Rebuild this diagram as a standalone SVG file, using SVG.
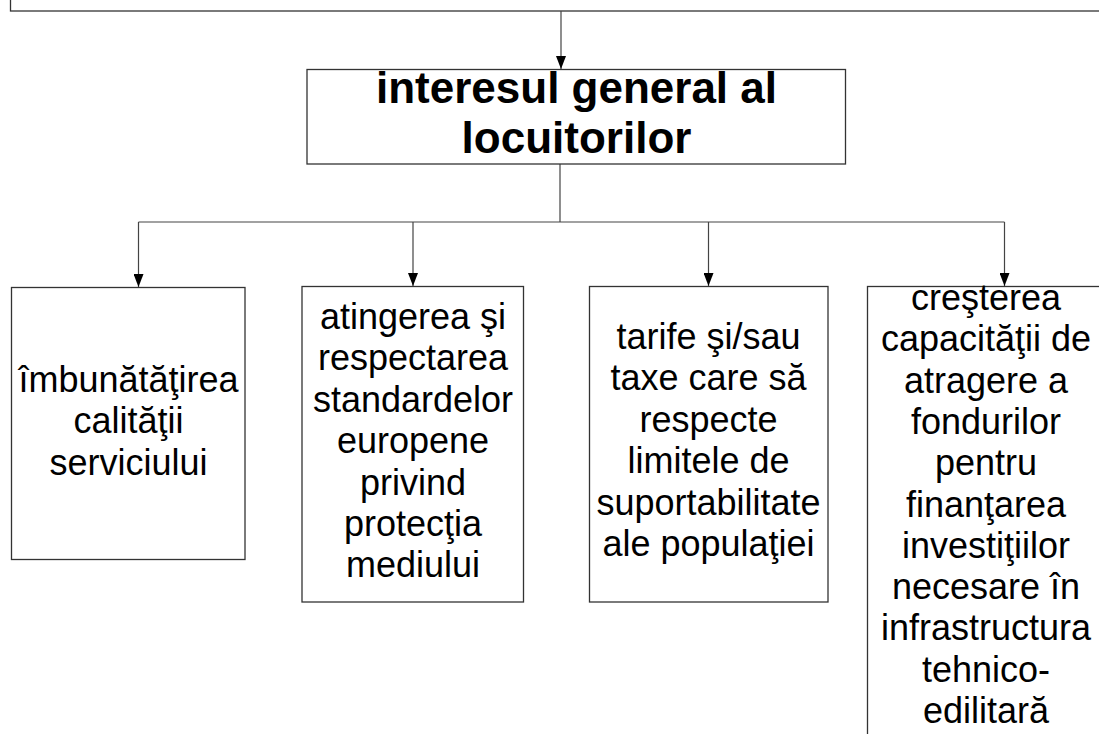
<svg xmlns="http://www.w3.org/2000/svg" width="1099" height="734" viewBox="0 0 1099 734">
<style>
.box{fill:#fff;stroke:#333;stroke-width:1.3}
.conn{fill:none;stroke:#444;stroke-width:1.2}
.t{font-family:"Liberation Sans",Arial,sans-serif;font-size:36px;fill:#000;text-anchor:middle}
.title{font-family:"Liberation Sans",Arial,sans-serif;font-size:44px;font-weight:bold;fill:#000;text-anchor:middle}
</style>
<defs>
<marker id="arr" markerUnits="userSpaceOnUse" markerWidth="10" markerHeight="14" refX="5" refY="13" orient="auto-start-reverse" viewBox="0 0 10 14">
<path d="M0,0 L10,0 L5,13 z" fill="#000" transform="rotate(0)"/>
</marker>
<marker id="a" markerUnits="userSpaceOnUse" markerWidth="14" markerHeight="10" refX="13" refY="5" orient="auto" viewBox="0 0 14 10">
<path d="M0,0 L13,5 L0,10 z" fill="#000"/>
</marker>
</defs>
<rect width="1099" height="734" fill="#fff"/>
<g id="top-node">
<rect class="box" x="10.5" y="-20" width="1120" height="31"/>
</g>
<g id="connectors">
<line class="conn" x1="561" y1="11" x2="561" y2="69" marker-end="url(#a)"/>
<polyline class="conn" points="560,164 560,222"/>
<line class="conn" x1="138.5" y1="222" x2="1004.5" y2="222"/>
<line class="conn" x1="138.5" y1="222" x2="138.5" y2="287" marker-end="url(#a)"/>
<line class="conn" x1="413" y1="222" x2="413" y2="286" marker-end="url(#a)"/>
<line class="conn" x1="708.5" y1="222" x2="708.5" y2="286" marker-end="url(#a)"/>
<line class="conn" x1="1004.5" y1="222" x2="1004.5" y2="286" marker-end="url(#a)"/>
</g>
<g id="node-interes">
<rect class="box" x="307" y="69.5" width="538.5" height="94.5"/>
<text class="title" x="576.5" y="103">interesul general al</text>
<text class="title" x="576.5" y="153">locuitorilor</text>
</g>
<g id="node-calitate">
<rect class="box" x="11.5" y="287.5" width="233.5" height="272"/>
<text class="t" x="128.5"><tspan x="128.5" y="392">îmbunătăţirea</tspan><tspan x="128.5" y="433.4">calităţii</tspan><tspan x="128.5" y="474.8">serviciului</tspan></text>
</g>
<g id="node-standarde">
<rect class="box" x="302" y="286.5" width="221.5" height="315.5"/>
<text class="t" x="413"><tspan x="413" y="329">atingerea şi</tspan><tspan x="413" y="370.4">respectarea</tspan><tspan x="413" y="411.8">standardelor</tspan><tspan x="413" y="453.2">europene</tspan><tspan x="413" y="494.6">privind</tspan><tspan x="413" y="536">protecţia</tspan><tspan x="413" y="577.4">mediului</tspan></text>
</g>
<g id="node-tarife">
<rect class="box" x="589.5" y="286.5" width="238.5" height="315.5"/>
<text class="t" x="708.5"><tspan x="708.5" y="349">tarife şi/sau</tspan><tspan x="708.5" y="390.4">taxe care să</tspan><tspan x="708.5" y="431.8">respecte</tspan><tspan x="708.5" y="473.2">limitele de</tspan><tspan x="708.5" y="514.6">suportabilitate</tspan><tspan x="708.5" y="556">ale populaţiei</tspan></text>
</g>
<g id="node-fonduri">
<rect class="box" x="867.5" y="286.5" width="280" height="480"/>
<text class="t" x="986"><tspan x="986" y="310">creşterea</tspan><tspan x="986" y="351.3">capacităţii de</tspan><tspan x="986" y="392.6">atragere a</tspan><tspan x="986" y="433.9">fondurilor</tspan><tspan x="986" y="475.2">pentru</tspan><tspan x="986" y="516.5">finanţarea</tspan><tspan x="986" y="557.8">investiţiilor</tspan><tspan x="986" y="599.1">necesare în</tspan><tspan x="986" y="640.4">infrastructura</tspan><tspan x="986" y="681.7">tehnico-</tspan><tspan x="986" y="723">edilitară</tspan></text>
</g>
</svg>
